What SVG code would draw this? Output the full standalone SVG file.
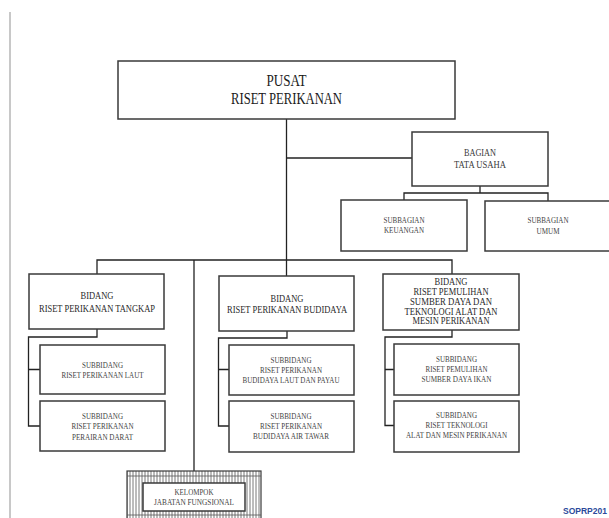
<svg xmlns="http://www.w3.org/2000/svg" width="609" height="518" viewBox="0 0 609 518">
<style>
.box{fill:#fff;stroke:#3a3a3a;stroke-width:1.5}
.ln{fill:none;stroke:#222;stroke-width:1.3}
text{font-family:"Liberation Serif","Times New Roman",serif;text-anchor:middle;fill:#333}
.t16{font-size:16px;fill:#1a1a1a}
.t10{font-size:10px;fill:#3a3a3a}
.t105{font-size:10.5px;fill:#2a2a2a}
.t85{font-size:8.5px;fill:#444}
</style>
<defs>
<pattern id="hatch" width="3" height="10" patternUnits="userSpaceOnUse">
<rect width="3" height="10" fill="#fff"/>
<line x1="1" y1="0" x2="1" y2="10" stroke="#555" stroke-width="0.8"/>
</pattern>
</defs>
<rect width="609" height="518" fill="#fff"/>
<line x1="10" y1="12" x2="10" y2="518" stroke="#c8c8c8" stroke-width="2"/>

<g id="connectors">
<path class="ln" d="M286.5 119 V276"/>
<path class="ln" d="M286.5 158 H412"/>
<path class="ln" d="M480 186 V193 M404 200 V193 H548 V201"/>
<path class="ln" d="M97 274 V260 H452 V274"/>
<path class="ln" d="M194 260 V471"/>
<path class="ln" d="M97 329 V337 H28.5 V426 H40 M28.5 369.5 H40"/>
<path class="ln" d="M287 331 V338 H218.5 V426 H229 M218.5 369.5 H229"/>
<path class="ln" d="M452 330 V337 H385 V425.5 H394 M385 369.5 H394"/>
</g>

<g id="pusat">
<rect class="box" x="118" y="61" width="337" height="58"/>
<text class="t16" x="286.5" y="86" textLength="40" lengthAdjust="spacingAndGlyphs">PUSAT</text>
<text class="t16" x="286.5" y="104" textLength="111" lengthAdjust="spacingAndGlyphs">RISET PERIKANAN</text>
</g>

<g id="bagian-tu">
<rect class="box" x="412" y="132" width="136" height="54"/>
<text class="t10" x="480" y="156" textLength="32" lengthAdjust="spacingAndGlyphs">BAGIAN</text>
<text class="t10" x="480" y="168" textLength="52" lengthAdjust="spacingAndGlyphs">TATA USAHA</text>
</g>

<g id="subbagian-keuangan">
<rect class="box" x="341" y="200" width="126" height="51"/>
<text class="t85" x="404" y="223" textLength="41" lengthAdjust="spacingAndGlyphs">SUBBAGIAN</text>
<text class="t85" x="404" y="233" textLength="40" lengthAdjust="spacingAndGlyphs">KEUANGAN</text>
</g>

<g id="subbagian-umum">
<rect class="box" x="485" y="201" width="127" height="50"/>
<text class="t85" x="548" y="223" textLength="41" lengthAdjust="spacingAndGlyphs">SUBBAGIAN</text>
<text class="t85" x="548" y="234" textLength="23" lengthAdjust="spacingAndGlyphs">UMUM</text>
</g>

<g id="bidang-tangkap">
<rect class="box" x="29" y="274" width="135" height="55"/>
<text class="t105" x="97" y="299" textLength="33" lengthAdjust="spacingAndGlyphs">BIDANG</text>
<text class="t105" x="97" y="312" textLength="116" lengthAdjust="spacingAndGlyphs">RISET PERIKANAN TANGKAP</text>
</g>

<g id="subbidang-laut">
<rect class="box" x="40" y="345" width="125" height="49"/>
<text class="t85" x="102.5" y="368" textLength="41" lengthAdjust="spacingAndGlyphs">SUBBIDANG</text>
<text class="t85" x="102.5" y="378" textLength="82" lengthAdjust="spacingAndGlyphs">RISET PERIKANAN LAUT</text>
</g>

<g id="subbidang-darat">
<rect class="box" x="40" y="401" width="125" height="50"/>
<text class="t85" x="102.5" y="419" textLength="41" lengthAdjust="spacingAndGlyphs">SUBBIDANG</text>
<text class="t85" x="102.5" y="429" textLength="62" lengthAdjust="spacingAndGlyphs">RISET PERIKANAN</text>
<text class="t85" x="102.5" y="440" textLength="61" lengthAdjust="spacingAndGlyphs">PERAIRAN DARAT</text>
</g>

<g id="bidang-budidaya">
<rect class="box" x="219" y="276" width="135" height="55"/>
<text class="t105" x="287" y="302" textLength="33" lengthAdjust="spacingAndGlyphs">BIDANG</text>
<text class="t105" x="287" y="313" textLength="120" lengthAdjust="spacingAndGlyphs">RISET PERIKANAN BUDIDAYA</text>
</g>

<g id="subbidang-budidaya-laut">
<rect class="box" x="229" y="345" width="125" height="50"/>
<text class="t85" x="291" y="363" textLength="41" lengthAdjust="spacingAndGlyphs">SUBBIDANG</text>
<text class="t85" x="291" y="373" textLength="62" lengthAdjust="spacingAndGlyphs">RISET PERIKANAN</text>
<text class="t85" x="291" y="383" textLength="97" lengthAdjust="spacingAndGlyphs">BUDIDAYA LAUT DAN PAYAU</text>
</g>

<g id="subbidang-budidaya-tawar">
<rect class="box" x="229" y="401" width="125" height="51"/>
<text class="t85" x="291" y="419" textLength="41" lengthAdjust="spacingAndGlyphs">SUBBIDANG</text>
<text class="t85" x="291" y="429" textLength="62" lengthAdjust="spacingAndGlyphs">RISET PERIKANAN</text>
<text class="t85" x="291" y="439" textLength="76" lengthAdjust="spacingAndGlyphs">BUDIDAYA AIR TAWAR</text>
</g>

<g id="bidang-pemulihan">
<rect class="box" x="383" y="274" width="136" height="56"/>
<text class="t105" x="451" y="285" textLength="33" lengthAdjust="spacingAndGlyphs">BIDANG</text>
<text class="t105" x="451" y="295" textLength="75" lengthAdjust="spacingAndGlyphs">RISET PEMULIHAN</text>
<text class="t105" x="451" y="305" textLength="82" lengthAdjust="spacingAndGlyphs">SUMBER DAYA DAN</text>
<text class="t105" x="451" y="314.5" textLength="93" lengthAdjust="spacingAndGlyphs">TEKNOLOGI ALAT DAN</text>
<text class="t105" x="451" y="324" textLength="77" lengthAdjust="spacingAndGlyphs">MESIN PERIKANAN</text>
</g>

<g id="subbidang-pemulihan">
<rect class="box" x="394" y="344" width="125" height="51"/>
<text class="t85" x="456.5" y="362" textLength="41" lengthAdjust="spacingAndGlyphs">SUBBIDANG</text>
<text class="t85" x="456.5" y="372" textLength="62" lengthAdjust="spacingAndGlyphs">RISET PEMULIHAN</text>
<text class="t85" x="456.5" y="382" textLength="70" lengthAdjust="spacingAndGlyphs">SUMBER DAYA IKAN</text>
</g>

<g id="subbidang-teknologi">
<rect class="box" x="394" y="401" width="125" height="51"/>
<text class="t85" x="456.5" y="418" textLength="41" lengthAdjust="spacingAndGlyphs">SUBBIDANG</text>
<text class="t85" x="456.5" y="428" textLength="62" lengthAdjust="spacingAndGlyphs">RISET TEKNOLOGI</text>
<text class="t85" x="456.5" y="438" textLength="101" lengthAdjust="spacingAndGlyphs">ALAT DAN MESIN PERIKANAN</text>
</g>

<g id="kelompok-jf">
<rect x="127" y="471" width="134" height="55" fill="url(#hatch)" stroke="#3a3a3a" stroke-width="1.2"/>
<line x1="127" y1="476" x2="261" y2="476" stroke="#555" stroke-width="0.8"/>
<line x1="127" y1="515" x2="261" y2="515" stroke="#555" stroke-width="0.8"/>
<rect class="box" x="143" y="483" width="102" height="28"/>
<text class="t85" x="194" y="495" textLength="39" lengthAdjust="spacingAndGlyphs">KELOMPOK</text>
<text class="t85" x="194" y="505" textLength="80" lengthAdjust="spacingAndGlyphs">JABATAN FUNGSIONAL</text>
</g>

<text x="563" y="514" style="font-family:'Liberation Sans',Arial,sans-serif;font-size:9px;font-weight:bold;fill:#2b4a9b;text-anchor:start" textLength="44" lengthAdjust="spacingAndGlyphs">SOPRP201</text>
</svg>
